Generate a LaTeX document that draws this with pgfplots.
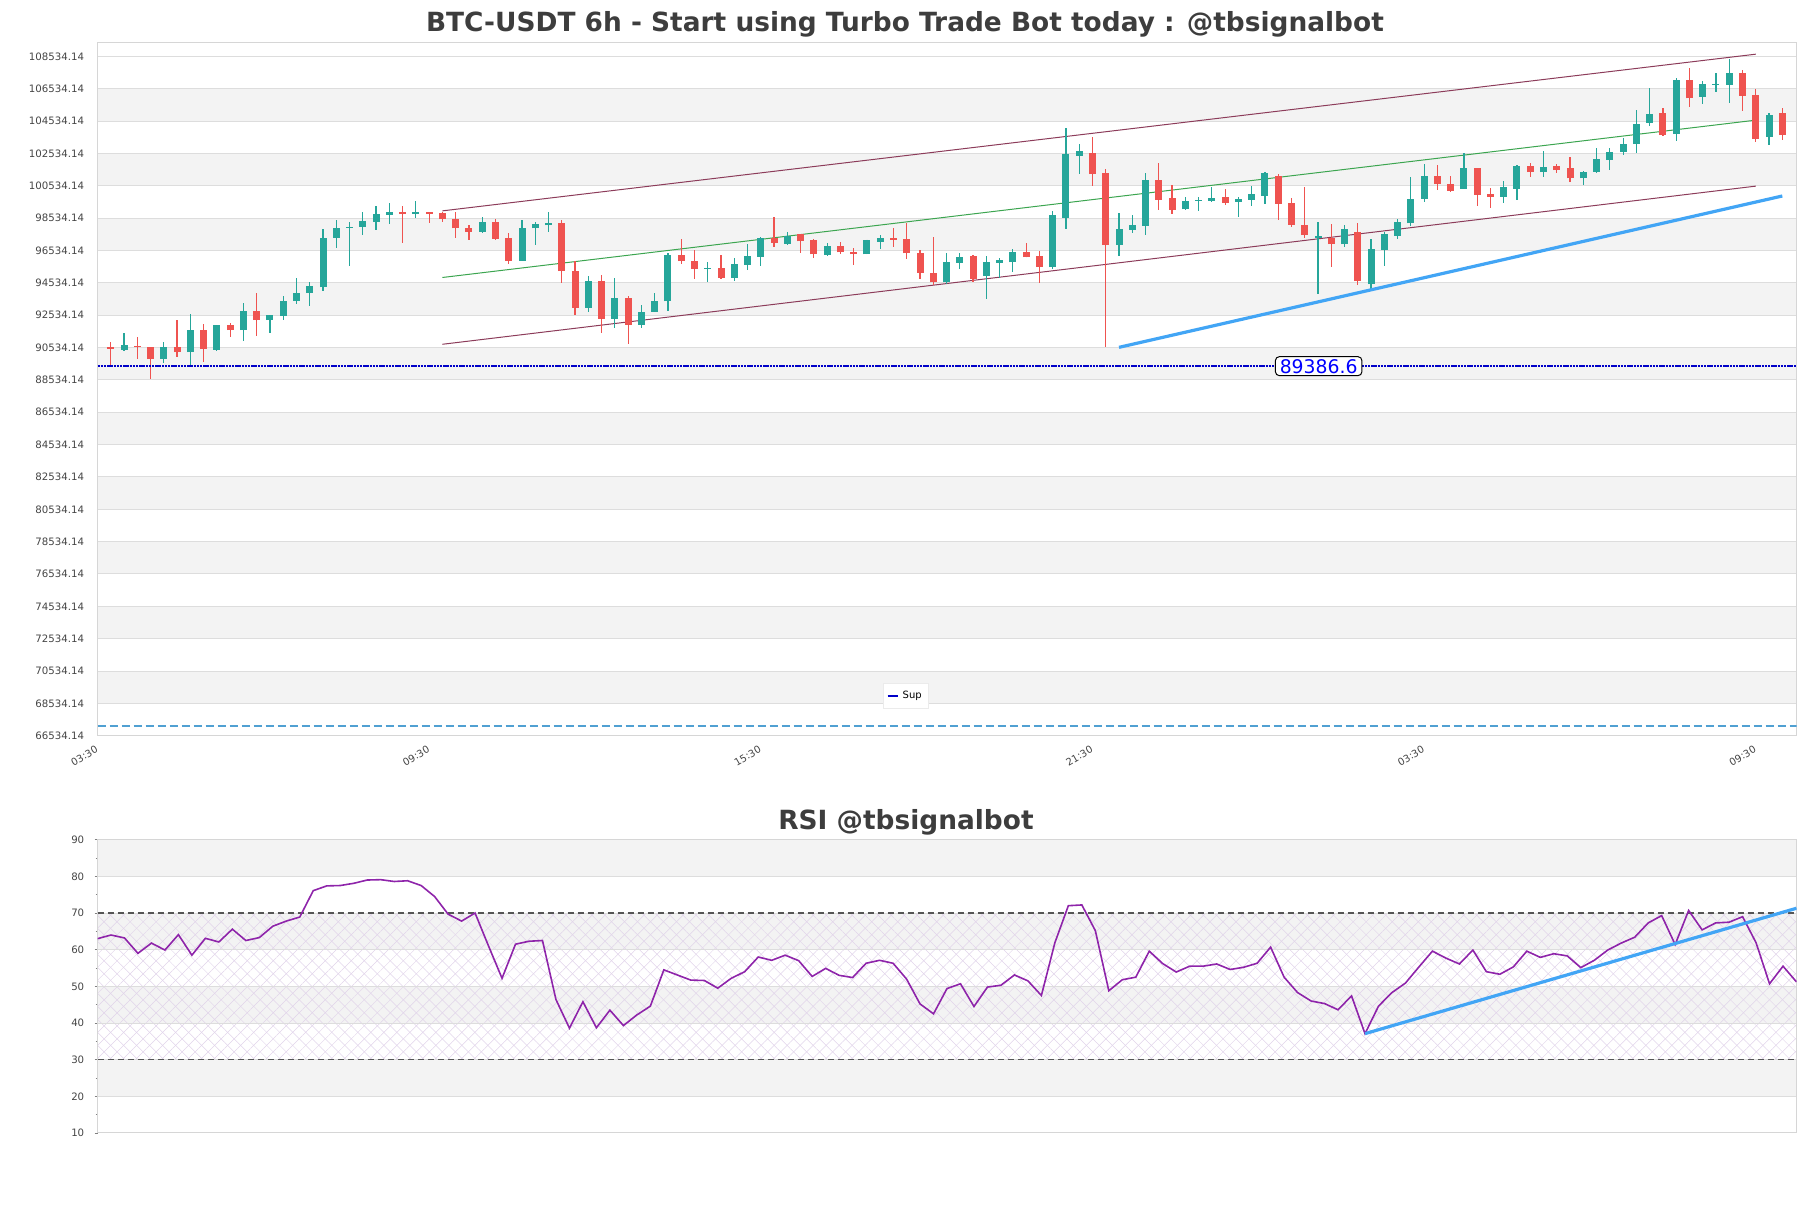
\documentclass[border=0pt]{standalone}
\usepackage{fontspec}
\setmainfont{DejaVu Sans}
\usepackage{pgfplots}
\usepackage{pgfplotstable}
\pgfplotsset{compat=1.18}
\usetikzlibrary{patterns.meta}
\definecolor{cgreen}{HTML}{26A69A}
\definecolor{cred}{HTML}{EF5350}
\definecolor{bandc}{HTML}{F3F3F3}
\definecolor{gridc}{HTML}{DDDDDD}
\definecolor{axisc}{HTML}{D6D6D6}
\definecolor{chan}{RGB}{140,60,90}
\definecolor{midc}{RGB}{60,165,80}
\definecolor{tblue}{RGB}{66,165,245}
\definecolor{supc}{RGB}{0,0,200}
\definecolor{dblue}{RGB}{80,160,210}
\definecolor{rsic}{RGB}{142,36,170}
\definecolor{ttl}{HTML}{3D3D3D}
\definecolor{txt}{HTML}{444444}
\definecolor{hatchc}{RGB}{225,212,234}
\definecolor{dashc}{HTML}{555555}

\pgfplotsset{candle/.style={forget plot, only marks, mark=*, mark size=0pt, mark options={draw=none, fill=none}}}

\pgfplotstableread{
x o h l c
1 90415 91468 90311 90724
4 89815 90910 89588 90600
6 90249 92584 89382 91592
8 90415 91902 90311 91902
10 91613 93307 90931 92811
12 92233 92522 91427 92522
13 92481 93700 92233 93431
14 93431 94815 93224 93927
15 93906 94609 93100 94319
16 94257 97852 94051 97336
17 97336 98410 96675 97956
18 97935 98286 95580 98018
19 97997 98947 97501 98348
20 98307 99319 97790 98782
21 98741 99464 98162 98906
23 98783 99613 98575 98949
28 97704 98638 97642 98327
31 95920 98410 95878 97953
32 97912 98306 96853 98161
33 98098 98949 97704 98264
36 93014 94944 92745 94633
38 92309 94841 91769 93596
40 91936 93180 91769 92766
41 92766 93907 92724 93388
42 93388 96397 92828 96251
45 95422 95837 94571 95463
47 94841 96085 94675 95712
48 95671 96916 95359 96189
49 96168 97372 95608 97330
51 96957 97704 96853 97434
54 96272 97019 96210 96812
57 96293 97206 96293 97206
58 97081 97496 96646 97330
63 94571 96397 94467 95837
64 95795 96355 95422 96148
66 94950 96213 93522 95799
67 95757 96088 94846 95923
68 95799 96627 95219 96420
71 95488 99007 95385 98717
72 98552 104120 97869 102505
73 102402 103126 101263 102671
76 96875 98842 96192 97848
77 97807 98717 97600 98096
78 98055 101326 97496 100891
81 99090 99835 99048 99628
82 99628 99877 98986 99670
83 99628 100456 99566 99814
85 99566 99877 98635 99711
86 99670 100498 99318 100022
87 99918 101388 99421 101326
91 97289 98283 93832 97413
93 96916 98096 96772 97848
95 94453 97227 94184 96606
96 96565 97703 95571 97537
97 97455 98469 97248 98283
98 98220 101077 98076 99711
99 99732 101884 99545 101119
102 100353 102568 100353 101636
105 99856 100808 99504 100456
106 100353 101843 99670 101760
108 101388 102671 101077 101698
111 100993 101448 100580 101406
112 101406 102852 101324 102170
113 102129 102852 101510 102646
114 102646 103472 102439 103100
115 103121 105228 102543 104340
116 104443 106613 104237 104960
118 103741 107191 103307 107088
120 106034 107026 105600 106819
121 106799 107501 106365 106840
122 106778 108389 105683 107522
125 103555 105022 103059 104918
}\greentab

\pgfplotstableread{
x o h l c
0 90580 90890 89340 90456
2 90663 91220 89857 90559
3 90600 90600 88576 89815
5 90600 92212 89960 90249
7 91592 91964 89629 90435
9 91902 92026 91179 91613
11 92811 93927 91241 92233
22 98949 99302 97019 98783
24 98949 98949 98264 98783
25 98845 98949 98327 98472
26 98513 98949 97330 97912
27 97953 98098 97165 97704
29 98327 98472 97185 97268
30 97330 97642 95733 95920
34 98264 98410 94529 95256
35 95256 95920 92558 93014
37 94633 95007 91438 92309
39 93596 93699 90774 91936
43 96251 97268 95712 95878
44 95920 96584 94799 95422
46 95463 96272 94799 94841
50 97289 98638 96770 97019
52 97538 97538 96355 97102
53 97165 97268 96106 96293
55 96812 97081 96293 96418
56 96459 96708 95650 96293
59 97330 97953 96770 97206
60 97227 98223 96044 96355
61 96397 96542 94799 95152
62 95152 97393 94384 94571
65 96171 96254 94598 94805
69 96461 96978 96130 96130
70 96171 96502 94536 95509
74 102568 103561 100539 101263
75 101326 101595 90541 96875
79 100891 101947 99048 99670
80 99773 100560 98800 99048
84 99835 100353 99359 99483
88 101160 101263 98428 99421
89 99462 99773 97993 98117
90 98117 100456 97330 97496
92 97330 98158 95529 96937
94 97703 98262 94432 94639
100 101119 101843 100291 100663
101 100642 101119 100146 100228
103 101636 101636 99318 99980
104 100022 100394 99152 99856
107 101760 101947 101077 101388
109 101737 101861 101303 101510
110 101613 102295 100787 100993
117 105022 105373 103638 103679
119 107088 107811 105394 105952
123 107522 107687 105166 106096
124 106137 106509 103245 103431
126 105022 105332 103369 103679
}\redtab

\begin{document}
\begin{tikzpicture}
\path (0pt,0pt) rectangle (905.5pt,-604pt);
\node[anchor=base, inner sep=0pt, text=ttl, font=\fontsize{13.2}{16}\selectfont\bfseries] at (452.5pt,-15.8pt) {BTC-USDT 6h - Start using Turbo Trade Bot today : @tbsignalbot};
\node[anchor=base, inner sep=0pt, text=ttl, font=\fontsize{13.2}{16}\selectfont\bfseries] at (453pt,-414.7pt) {RSI @tbsignalbot};

\begin{axis}[set layers, scale only axis,
  at={(48.75pt,-21.35pt)}, anchor=north west,
  width=849.5pt, height=346.5pt,
  xmin=-1, xmax=127.07, ymin=66534.14, ymax=109390,
  scaled y ticks=false, scaled x ticks=false,
  axis line style={draw=axisc, line width=0.5pt},
  ytick={66534.14,68534.14,70534.14,72534.14,74534.14,76534.14,78534.14,80534.14,82534.14,84534.14,86534.14,88534.14,90534.14,92534.14,94534.14,96534.14,98534.14,100534.14,102534.14,104534.14,106534.14,108534.14},
  yticklabels={66534.14,68534.14,70534.14,72534.14,74534.14,76534.14,78534.14,80534.14,82534.14,84534.14,86534.14,88534.14,90534.14,92534.14,94534.14,96534.14,98534.14,100534.14,102534.14,104534.14,106534.14,108534.14},
  xtick={-1,24,49,74,99,124},
  xticklabels={03:30,09:30,15:30,21:30,03:30,09:30},
  major tick length=0pt,
  ymajorgrids, grid style={draw=gridc, line width=0.5pt},
  xticklabel style={rotate=30, anchor=north east, font=\fontsize{5}{6}\selectfont, text=txt},
  yticklabel style={font=\fontsize{5.1}{6}\selectfont, text=txt, xshift=-3.2pt},
  legend style={at={(0.476,0.0573)}, anchor=center, font=\fontsize{5}{6}\selectfont, draw=white!92!black, fill=white, inner sep=1.5pt, row sep=0pt},
  legend image code/.code={\draw[#1, solid, line width=1pt] (0pt,0pt) -- (5pt,0pt);},
]
\begin{pgfonlayer}{axis background}
\fill[bandc] (axis cs:-1,104534.14) rectangle (axis cs:127.07,106534.14);
\fill[bandc] (axis cs:-1,100534.14) rectangle (axis cs:127.07,102534.14);
\fill[bandc] (axis cs:-1,96534.14) rectangle (axis cs:127.07,98534.14);
\fill[bandc] (axis cs:-1,92534.14) rectangle (axis cs:127.07,94534.14);
\fill[bandc] (axis cs:-1,88534.14) rectangle (axis cs:127.07,90534.14);
\fill[bandc] (axis cs:-1,84534.14) rectangle (axis cs:127.07,86534.14);
\fill[bandc] (axis cs:-1,80534.14) rectangle (axis cs:127.07,82534.14);
\fill[bandc] (axis cs:-1,76534.14) rectangle (axis cs:127.07,78534.14);
\fill[bandc] (axis cs:-1,72534.14) rectangle (axis cs:127.07,74534.14);
\fill[bandc] (axis cs:-1,68534.14) rectangle (axis cs:127.07,70534.14);
\end{pgfonlayer}

\addplot[forget plot, chan, line width=0.5pt] coordinates {(25,98990) (124,108680)};
\addplot[forget plot, midc, line width=0.5pt] coordinates {(25,94870) (124,104600)};
\addplot[forget plot, chan, line width=0.5pt] coordinates {(25,90740) (124,100520)};
\addplot[forget plot, dblue, line width=0.6pt, dash pattern=on 4pt off 2pt] coordinates {(-1,67130) (127.07,67130)};

% green candles
\addplot[candle,
  error bars/.cd, y dir=both, y explicit, error mark=none,
  error bar style={line width=0.6pt, draw=cgreen, solid}]
  table[x=x, y=c, y error plus expr=\thisrow{h}-\thisrow{c}, y error minus expr=\thisrow{c}-\thisrow{l}] {\greentab};
\addplot[candle,
  error bars/.cd, y dir=plus, y explicit, error mark=none,
  error bar style={line width=3.5pt, draw=cgreen, solid}]
  table[x=x, y=o, y error expr=\thisrow{c}-\thisrow{o}] {\greentab};
% red candles
\addplot[candle,
  error bars/.cd, y dir=both, y explicit, error mark=none,
  error bar style={line width=0.6pt, draw=cred, solid}]
  table[x=x, y=c, y error plus expr=\thisrow{h}-\thisrow{c}, y error minus expr=\thisrow{c}-\thisrow{l}] {\redtab};
\addplot[candle,
  error bars/.cd, y dir=plus, y explicit, error mark=none,
  error bar style={line width=3.5pt, draw=cred, solid}]
  table[x=x, y=c, y error expr=\thisrow{o}-\thisrow{c}] {\redtab};

\addplot[forget plot, tblue, line width=1.6pt] coordinates {(76,90550) (126,99910)};
\addplot[supc, line width=1pt, dash pattern=on 1.2pt off 0.4pt] coordinates {(-1,89386.6) (127.07,89386.6)};
\addlegendentry{Sup}
\node[draw=black, fill=white, rounded corners=2pt, line width=0.5pt, text=blue, font=\fontsize{9.4}{11}\selectfont, inner xsep=2.2pt, inner ysep=1.2pt] at (axis cs:91.05,89386.6) {89386.6};
\end{axis}

\begin{axis}[set layers, scale only axis,
  at={(48.75pt,-419.85pt)}, anchor=north west,
  width=849.5pt, height=146.65pt,
  xmin=0, xmax=126, ymin=10, ymax=90,
  axis line style={draw=axisc, line width=0.5pt},
  ytick={10,20,30,40,50,60,70,80,90},
  minor ytick={15,25,35,45,55,65,75,85},
  xtick=\empty,
  tick align=outside, ytick pos=left,
  major tick length=1.5pt, minor tick length=1pt,
  tick style={draw=gray, line width=0.4pt},
  ymajorgrids, grid style={draw=gridc, line width=0.5pt},
  yticklabel style={font=\fontsize{5.1}{6}\selectfont, text=txt, xshift=-1.6pt},
  /pgf/number format/assume math mode=true,
]
\begin{pgfonlayer}{axis background}
\fill[bandc] (axis cs:0,80) rectangle (axis cs:126,90);
\fill[bandc] (axis cs:0,60) rectangle (axis cs:126,70);
\fill[bandc] (axis cs:0,40) rectangle (axis cs:126,50);
\fill[bandc] (axis cs:0,20) rectangle (axis cs:126,30);
\fill[pattern={Lines[angle=45,distance=4.6pt,line width=0.25pt]}, pattern color=hatchc] (axis cs:0,30) rectangle (axis cs:126,70);
\fill[pattern={Lines[angle=-45,distance=4.6pt,line width=0.25pt]}, pattern color=hatchc] (axis cs:0,30) rectangle (axis cs:126,70);
\end{pgfonlayer}
\addplot[forget plot, dashc, line width=0.6pt, dash pattern=on 3pt off 2pt] coordinates {(0,70) (126,70)};
\addplot[forget plot, dashc, line width=0.6pt, dash pattern=on 3pt off 2pt] coordinates {(0,30) (126,30)};
\addplot[rsic, line width=0.8pt] coordinates {
(0,63.0) (1,64.0) (2,63.2) (3,59.0) (4,61.8) (5,59.9) (6,64.1) (7,58.5) (8,63.1) (9,62.1)
(10,65.6) (11,62.5) (12,63.3) (13,66.4) (14,67.8) (15,68.9) (16,76.1) (17,77.4) (18,77.5) (19,78.1)
(20,79.0) (21,79.1) (22,78.6) (23,78.8) (24,77.5) (25,74.5) (26,69.7) (27,67.8) (28,70.0) (29,61.0)
(30,52.2) (31,61.5) (32,62.3) (33,62.5) (34,46.4) (35,38.6) (36,45.8) (37,38.7) (38,43.5) (39,39.3)
(40,42.2) (41,44.6) (42,54.5) (43,53.1) (44,51.7) (45,51.6) (46,49.5) (47,52.2) (48,54.0) (49,58.0)
(50,57.1) (51,58.5) (52,57.0) (53,52.7) (54,54.9) (55,53.0) (56,52.4) (57,56.3) (58,57.1) (59,56.3)
(60,52.0) (61,45.2) (62,42.5) (63,49.4) (64,50.7) (65,44.5) (66,49.8) (67,50.3) (68,53.1) (69,51.5)
(70,47.5) (71,61.9) (72,72.0) (73,72.2) (74,65.2) (75,48.8) (76,51.8) (77,52.5) (78,59.6) (79,56.2)
(80,53.9) (81,55.5) (82,55.5) (83,56.1) (84,54.6) (85,55.2) (86,56.3) (87,60.7) (88,52.5) (89,48.3)
(90,46.0) (91,45.3) (92,43.6) (93,47.4) (94,37.1) (95,44.6) (96,48.3) (97,50.9) (98,55.3) (99,59.6)
(100,57.7) (101,56.1) (102,59.9) (103,54.0) (104,53.3) (105,55.3) (106,59.6) (107,57.9) (108,58.9) (109,58.3)
(110,55.1) (111,57.1) (112,59.9) (113,61.8) (114,63.4) (115,67.3) (116,69.3) (117,61.4) (118,70.7) (119,65.4)
(120,67.3) (121,67.5) (122,69.0) (123,61.9) (124,50.7) (125,55.5) (126,51.2)
};
\addplot[tblue, line width=1.6pt] coordinates {(94,37.1) (126,71.3)};
\end{axis}
\end{tikzpicture}
\end{document}
